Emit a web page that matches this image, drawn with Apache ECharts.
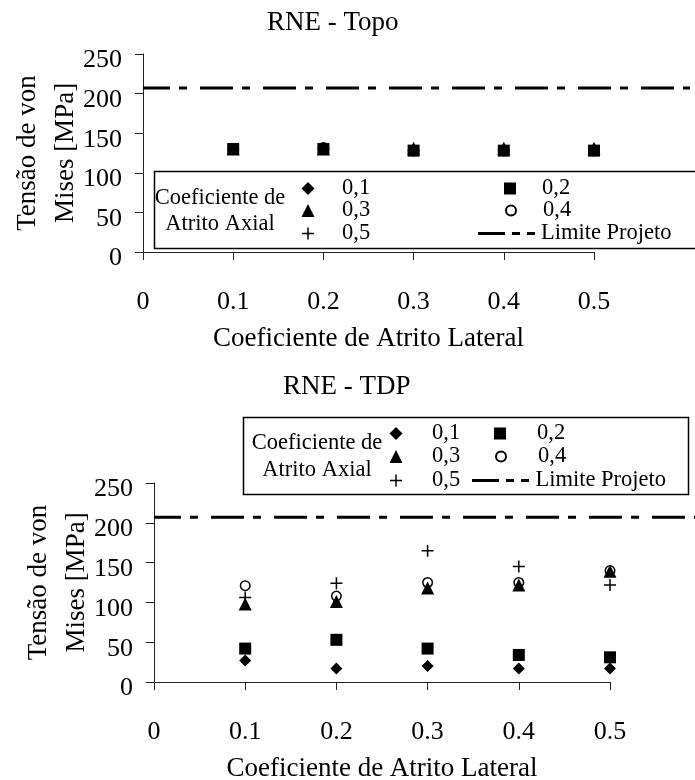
<!DOCTYPE html>
<html><head><meta charset="utf-8">
<script src="https://cdn.jsdelivr.net/npm/echarts@6/dist/echarts.min.js"></script>
<style>html,body{margin:0;padding:0;background:#fff}#c{width:695px;height:780px}</style>
</head><body><div id="c"></div>
<script>
// ---- data ----
const xValues = [0.1, 0.2, 0.3, 0.4, 0.5];
const seriesNames = ['0,1', '0,2', '0,3', '0,4', '0,5'];
const limitName = 'Limite Projeto';
const limitValue = 207;

// RNE - Topo
const topo01 = [130, 130, 128, 128, 128];
const topo02 = [130, 130, 128, 128, 128];
const topo03 = [130, 130, 131, 131, 131];
const topo04 = [130, 132, 128, 128, 128];
const topo05 = [130, 130, 128, 128, 128];

// RNE - TDP
const tdp01 = [27, 17, 20, 17, 17];
const tdp02 = [42, 53, 42, 34, 31];
const tdp03 = [98, 101, 118, 122, 139];
const tdp04 = [121, 108, 125, 125, 140];
const tdp05 = [106, 124, 165, 145, 122];

const yMin = 0, yMax = 250, yStep = 50;
const xMin = 0, xMax = 0.5, xStep = 0.1;

// ---- styling ----
const FONT = "'Liberation Serif','Times New Roman',serif";
const PLUS = 'path://M0,5.25h12v1.5h-12z M5.25,0h1.5v12h-1.5z';
const LIMIT_ICON = 'path://M0,0h27v3h-27z M34,0h8v3h-8z M49,0h8v3h-8z';
const symbols = ['diamond', 'rect', 'triangle', 'circle', PLUS];
const sizes = [12, 12, 13, 9.5, 12];
const styles = [
  {color: '#000', opacity: 1}, {color: '#000', opacity: 1}, {color: '#000', opacity: 1},
  {color: 'rgba(0,0,0,0)', borderColor: '#000', borderWidth: 1.5, opacity: 1},
  {color: '#000', opacity: 1}
];

function pairs(vals) { return xValues.map((x, i) => [x, vals[i]]); }

const axisColor = '#222';
function mkX(gridIndex) {
  return {
    type: 'value', gridIndex, min: xMin, max: xMax, interval: xStep,
    axisLine: {show: true, onZero: false, lineStyle: {color: axisColor, width: 1}},
    axisTick: {show: true, inside: false, length: 8, lineStyle: {color: axisColor}},
    splitLine: {show: false},
    axisLabel: {fontFamily: FONT, fontSize: 26, color: '#000', margin: 37,
      formatter: v => v === 0 ? '0' : v.toFixed(1)},
    name: 'Coeficiente de Atrito Lateral', nameLocation: 'middle', nameGap: 73,
    nameMoveOverlap: false,
    nameTextStyle: {fontFamily: FONT, fontSize: 27, color: '#000'}
  };
}
function mkXHidden(gridIndex) {
  return {type: 'value', gridIndex, min: 0, max: 1, show: false};
}
function mkY(gridIndex) {
  return {
    type: 'value', gridIndex, min: yMin, max: yMax, interval: yStep,
    axisLine: {show: true, lineStyle: {color: axisColor, width: 1}},
    axisTick: {show: true, inside: false, length: 8, lineStyle: {color: axisColor}},
    splitLine: {show: false},
    axisLabel: {fontFamily: FONT, fontSize: 26, color: '#000', margin: 21,
      verticalAlign: 'top', lineHeight: 13},
    name: 'Tensão de von\nMises [MPa]', nameLocation: 'middle', nameGap: 58,
    nameMoveOverlap: false,
    nameTextStyle: {fontFamily: FONT, fontSize: 27, color: '#000', lineHeight: 38}
  };
}
function mkYHidden(gridIndex) {
  return {type: 'value', gridIndex, min: yMin, max: yMax, show: false};
}

function scatterSeries(dataArrays, axisIndex) {
  return dataArrays.map((vals, i) => ({
    name: seriesNames[i], type: 'scatter', xAxisIndex: axisIndex, yAxisIndex: axisIndex,
    symbol: symbols[i], symbolSize: sizes[i], itemStyle: styles[i],
    data: pairs(vals), z: 3 + i, emphasis: {disabled: true}
  }));
}
function limitSeries(axisIndex) {
  return {
    name: limitName, type: 'line', xAxisIndex: axisIndex, yAxisIndex: axisIndex,
    symbol: 'none', data: [[0, limitValue], [1, limitValue]],
    lineStyle: {color: '#000', width: 3, type: [33, 9, 8, 13], dashOffset: 6},
    itemStyle: {color: '#000'}, emphasis: {disabled: true}, z: 2
  };
}

// legend item: icon centred at cx, row centred at cy, text starting at textLeft
function leg(name, cx, cy, size, textLeft) {
  const left = cx - size / 2;
  const pad = Math.max(0, textLeft - (left + size + 5));
  return {
    data: [name], left, top: cy - 11, itemWidth: size, itemHeight: size, padding: 0,
    selectedMode: false, itemGap: 0,
    textStyle: {fontFamily: FONT, fontSize: 22.5, color: '#000', lineHeight: 22, padding: [0, 0, 0, pad]}
  };
}
function legLimit(iconLeft, iconRight, cy, textLeft) {
  const w = iconRight - iconLeft;
  return {
    data: [limitName], left: iconLeft, top: cy - 11, itemWidth: w, itemHeight: 3, padding: 0,
    icon: LIMIT_ICON, selectedMode: false, itemGap: 0,
    textStyle: {fontFamily: FONT, fontSize: 22.5, color: '#000', lineHeight: 22,
      padding: [0, 0, 0, Math.max(0, textLeft - (iconRight + 5))]}
  };
}

const gridBase = {containLabel: false, outerBoundsMode: 'none'};

const chart = echarts.init(document.getElementById('c'), null, {renderer: 'canvas'});
chart.setOption({
  animation: false,
  backgroundColor: '#fff',
  title: [
    {text: 'RNE - Topo', left: 267, top: 8, padding: 0, textAlign: 'left', textVerticalAlign: 'top',
     textStyle: {fontFamily: FONT, fontSize: 27, fontWeight: 'normal', color: '#000', lineHeight: 30}},
    {text: 'RNE - TDP', left: 283, top: 372, padding: 0, textAlign: 'left', textVerticalAlign: 'top',
     textStyle: {fontFamily: FONT, fontSize: 27, fontWeight: 'normal', color: '#000', lineHeight: 30}},
    {text: 'Coeficiente de\nAtrito Axial', left: 220, top: 185, padding: 0, textAlign: 'center', textVerticalAlign: 'top',
     textStyle: {fontFamily: FONT, fontSize: 22.5, fontWeight: 'normal', color: '#000', lineHeight: 26}},
    {text: 'Coeficiente de\nAtrito Axial', left: 317, top: 430, padding: 0, textAlign: 'center', textVerticalAlign: 'top',
     textStyle: {fontFamily: FONT, fontSize: 22.5, fontWeight: 'normal', color: '#000', lineHeight: 27}}
  ],
  legend: [
    leg('0,1', 308, 188, 13, 342),
    leg('0,3', 308, 210, 13, 342),
    leg('0,5', 308, 233, 12, 342),
    leg('0,2', 510, 188, 12, 542),
    leg('0,4', 510, 210, 10, 542),
    legLimit(478, 537, 233, 542),
    leg('0,1', 396, 433, 13, 432),
    leg('0,3', 396, 456, 13, 432),
    leg('0,5', 396, 480, 12, 432),
    leg('0,2', 500, 433, 12, 537),
    leg('0,4', 500, 456, 10, 537),
    legLimit(472, 532, 480, 537)
  ],
  graphic: [
    {type: 'rect', left: 152, top: 169, shape: {width: 570, height: 77}, silent: true,
     style: {fill: 'none', stroke: '#000', lineWidth: 1.5}, z: 1},
    {type: 'rect', left: 241, top: 415, shape: {width: 445, height: 77}, silent: true,
     style: {fill: 'none', stroke: '#000', lineWidth: 1.5}, z: 1}
  ],
  grid: [
    Object.assign({left: 143, top: 54, width: 451, height: 198}, gridBase),
    Object.assign({left: 143, top: 54, width: 547, height: 198}, gridBase),
    Object.assign({left: 154, top: 483, width: 456, height: 199}, gridBase),
    Object.assign({left: 154, top: 483, width: 541, height: 199}, gridBase)
  ],
  xAxis: [mkX(0), mkXHidden(1), mkX(2), mkXHidden(3)],
  yAxis: [mkY(0), mkYHidden(1), mkY(2), mkYHidden(3)],
  series: [
    limitSeries(1),
    ...scatterSeries([topo01, topo02, topo03, topo04, topo05], 0),
    limitSeries(3),
    ...scatterSeries([tdp01, tdp02, tdp03, tdp04, tdp05], 2)
  ]
});
</script></body></html>
